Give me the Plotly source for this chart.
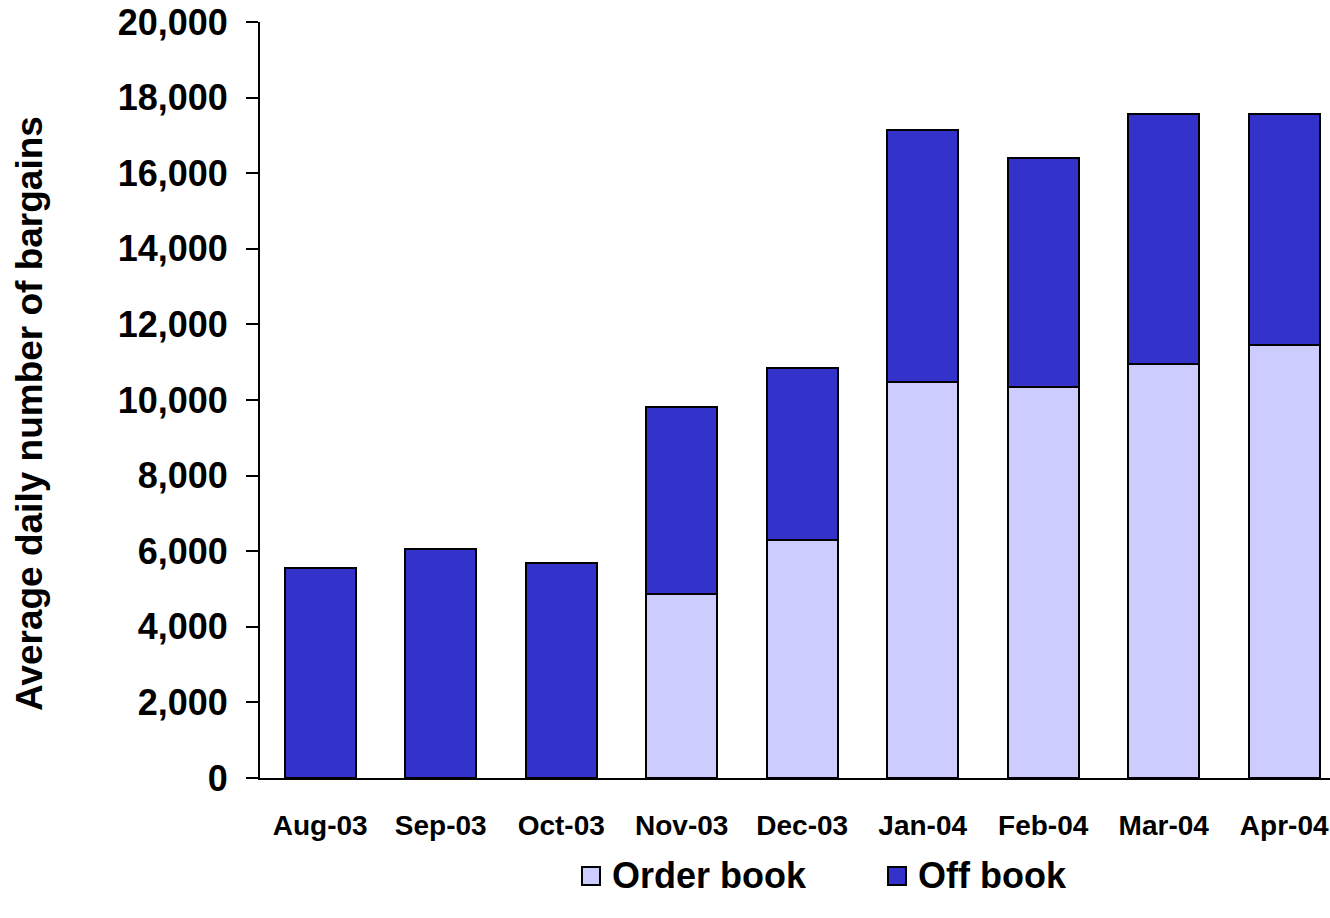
import plotly.graph_objects as go

months = ["Aug-03", "Sep-03", "Oct-03", "Nov-03", "Dec-03",
          "Jan-04", "Feb-04", "Mar-04", "Apr-04"]
order_book = [0, 0, 0, 4870, 6300, 10480, 10340, 10950, 11460]
off_book = [5550, 6050, 5680, 4940, 4550, 6660, 6060, 6620, 6110]
y_ticks = list(range(0, 20001, 2000))

FONT = "Liberation Sans, Arial, sans-serif"
COLORS = {"Order book": "#ccccff", "Off book": "#3333cc"}
W, H = 1330, 918
L, T, B = 260, 22, 140
PW, PH = W - L, H - T - B


def px_x(px):
    return (px - L) / PW


def px_y(py):
    return (H - B - py) / PH


fig = go.Figure()
for name, vals in (("Order book", order_book), ("Off book", off_book)):
    fig.add_trace(go.Bar(
        x=months, y=vals, name=name,
        marker=dict(color=COLORS[name], line=dict(color="black", width=2)),
        width=0.59, showlegend=False,
    ))

# legend drawn as boxed swatches with bold labels below the plot
for name, px in (("Order book", 582), ("Off book", 888)):
    fig.add_shape(
        type="rect", xref="paper", yref="paper",
        x0=px_x(px), x1=px_x(px + 18),
        y0=px_y(885), y1=px_y(867),
        fillcolor=COLORS[name], line=dict(color="black", width=2),
    )
    fig.add_annotation(
        text=name, xref="paper", yref="paper",
        x=px_x(px + 28), xanchor="left",
        y=px_y(876), yanchor="middle",
        showarrow=False,
        font=dict(size=36, family=FONT, color="black", weight="bold"),
    )

# vertical axis title
fig.add_annotation(
    text="Average daily number of bargains",
    xref="paper", yref="paper",
    x=px_x(29), xanchor="center",
    y=px_y(414), yanchor="middle",
    textangle=-90, showarrow=False,
    font=dict(size=37, family=FONT, color="black", weight="bold"),
)

fig.update_layout(
    barmode="stack",
    width=W, height=H,
    margin=dict(l=L, r=0, t=T, b=B, autoexpand=False),
    paper_bgcolor="white", plot_bgcolor="white",
    font=dict(family=FONT, color="black"),
    showlegend=False,
    xaxis=dict(
        range=[-0.5, 8.38],
        showline=True, linecolor="black", linewidth=2,
        ticks="", showgrid=False,
        tickfont=dict(size=28, family=FONT, weight="bold"),
        ticklabelstandoff=21,
        automargin=False,
    ),
    yaxis=dict(
        range=[0, 20000],
        tickvals=y_ticks,
        tickformat=",d",
        showline=True, linecolor="black", linewidth=2,
        ticks="outside", ticklen=12, tickwidth=2, tickcolor="black",
        showgrid=False, zeroline=False,
        tickfont=dict(size=36, family=FONT, weight="bold"),
        ticklabelstandoff=11,
        automargin=False,
    ),
)

fig.write_html("out.html")
